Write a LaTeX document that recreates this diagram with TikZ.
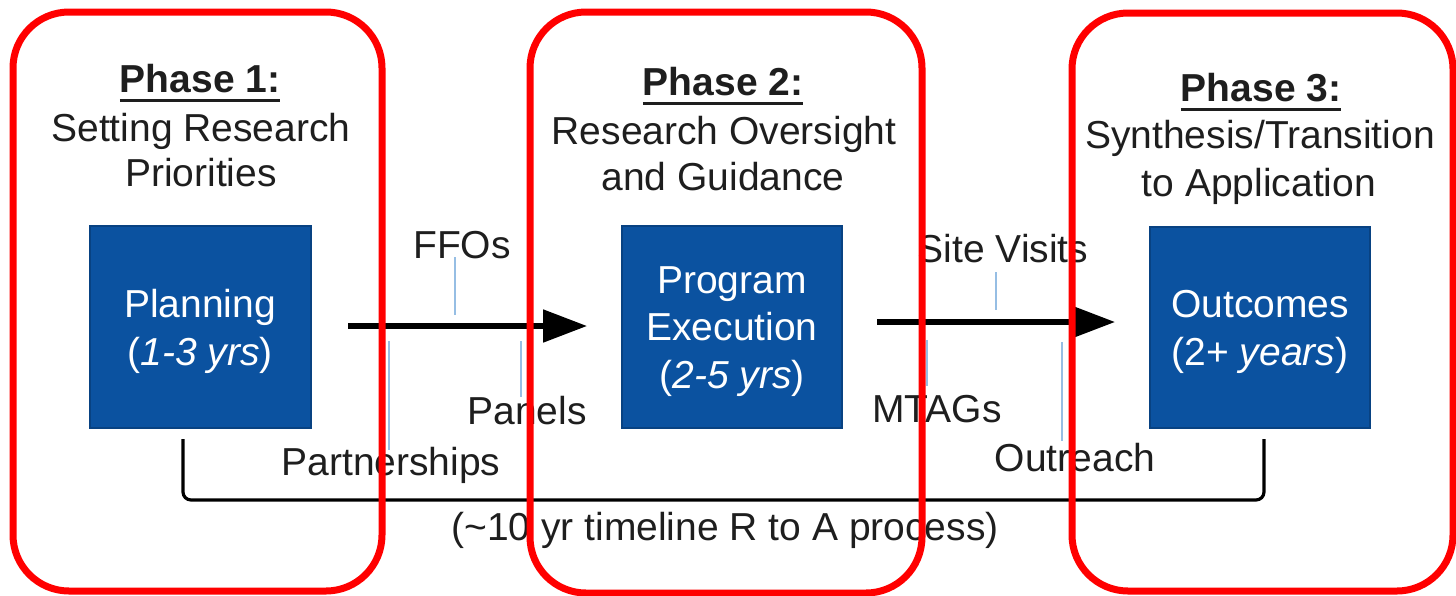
\documentclass[tikz,border=0pt]{standalone}
\usepackage{fontspec}
\setmainfont{Liberation Sans}
\usetikzlibrary{arrows.meta}
\definecolor{phred}{RGB}{255,0,0}
\definecolor{boxblue}{RGB}{11,82,160}
\definecolor{boxedge}{RGB}{8,66,130}
\definecolor{tickblue}{RGB}{150,190,228}
\definecolor{txt}{RGB}{30,30,30}
\newcommand\phul[1]{\setbox0\hbox{#1}\rlap{\raisebox{-5pt}{\rule{\wd0}{1.3pt}}}\box0}
\tikzset{
  x=0.5pt, y=-0.5pt,
  lbl/.style={anchor=base, inner sep=0pt, text=txt, font=\fontsize{19.5}{23}\selectfont},
  inbox/.style={anchor=base, inner sep=0pt, text=white, font=\fontsize{19.5}{23}\selectfont},
  phasebox/.style={draw=phred, line width=3.5pt, rounded corners=28pt},
  bluebox/.style={fill=boxblue, draw=boxedge, line width=0.6pt},
  flow/.style={line width=2.6pt, black, -{Triangle[length=22pt,width=16pt]}},
  tick/.style={draw=tickblue, line width=1.4pt},
  bracket/.style={line width=1.6pt, black, rounded corners=4pt}
}
\begin{document}
\begin{tikzpicture}
\useasboundingbox (0,0) rectangle (1456,595);
% blue boxes
\draw[bluebox] (90,226) rectangle (311,428);
\draw[bluebox] (622,226) rectangle (842,428);
\draw[bluebox] (1150,227) rectangle (1370,428);
\coordinate (b1) at (183,439);
\coordinate (b2) at (1264,439);
% titles
\node[lbl] (p1) at (200,92) {\textbf{\phul{Phase 1:}}};
\node[lbl] (p1a) at (201,141) {Setting Research};
\node[lbl] (p1b) at (201,186) {Priorities};
\node[lbl] (p2) at (723,95) {\textbf{\phul{Phase 2:}}};
\node[lbl] (p2a) at (724,144) {Research Oversight};
\node[lbl] (p2b) at (723,190) {and Guidance};
\node[lbl] (p3) at (1261,101) {\textbf{\phul{Phase 3:}}};
\node[lbl] (p3a) at (1260,148) {Synthesis/Transition};
\node[lbl] (p3b) at (1259,196) {to Application};
% box texts
\node[inbox] (pl1) at (200,317) {Planning};
\node[inbox] (pl2) at (200,365) {(\textit{1-3 yrs})};
\node[inbox] (pe1) at (732,293) {Program};
\node[inbox] (pe2) at (732,340) {Execution};
\node[inbox] (pe3) at (732,388) {(\textit{2-5 yrs})};
\node[inbox] (oc1) at (1260,317) {Outcomes};
\node[inbox] (oc2) at (1260,365) {(2+ \textit{years})};
% flow arrows
\coordinate (a1s) at (348,326);
\coordinate (a1e) at (587,326);
\coordinate (a2s) at (877,322);
\coordinate (a2e) at (1115,322);
\draw[flow] (a1s) -- (a1e);
\draw[flow] (a2s) -- (a2e);
% ticks
\coordinate (t1a) at (455,257); \coordinate (t1b) at (455,315);
\coordinate (t2a) at (389,341); \coordinate (t2b) at (389,450);
\coordinate (t3a) at (521,341); \coordinate (t3b) at (521,397);
\coordinate (t4a) at (996,272); \coordinate (t4b) at (996,310);
\coordinate (t5a) at (927,340); \coordinate (t5b) at (927,386);
\coordinate (t6a) at (1062,342); \coordinate (t6b) at (1062,441);
\draw[tick] (t1a) -- (t1b);
\draw[tick] (t2a) -- (t2b);
\draw[tick] (t3a) -- (t3b);
\draw[tick] (t4a) -- (t4b);
\draw[tick] (t5a) -- (t5b);
\draw[tick] (t6a) -- (t6b);
% labels
\node[lbl] (ffo) at (462,258) {FFOs};
\node[lbl] (sv) at (1003,262) {Site Visits};
\node[lbl] (pan) at (527,424) {Panels};
\node[lbl] (mt) at (937,422) {MTAGs};
\node[lbl] (par) at (391,475) {Partnerships};
\node[lbl] (out) at (1075,471) {Outreach};
% bracket
\draw[bracket] (b1) -- (183,500) -- (1264,500) -- (b2);
\node[lbl] (tl) at (725,540) {(\textasciitilde10 yr timeline R to A process)};
% phase frames
\draw[phasebox] (13,12) rectangle (382,591);
\draw[phasebox] (530,12) rectangle (922,593);
\draw[phasebox] (1072,13) rectangle (1453,591);
\end{tikzpicture}
\end{document}
